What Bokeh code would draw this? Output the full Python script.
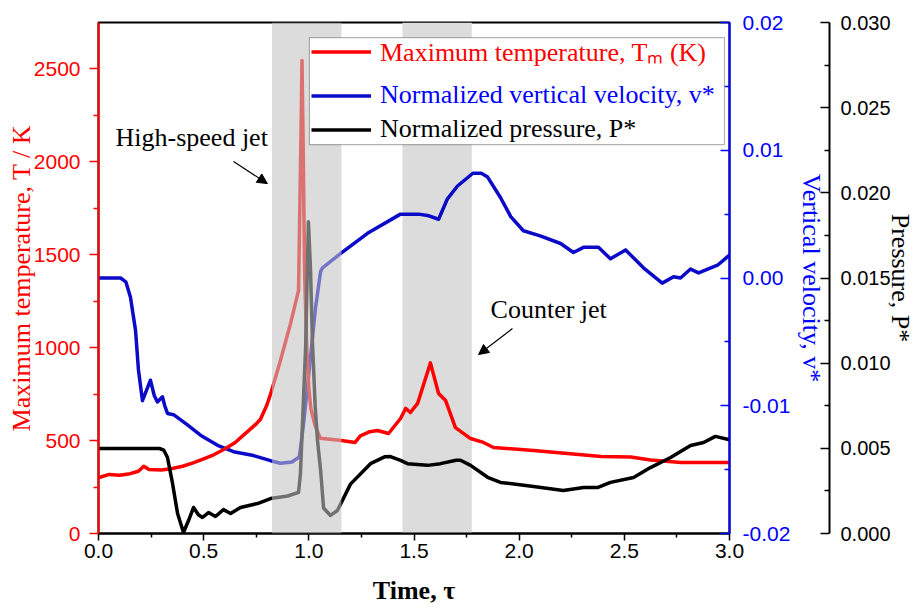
from bokeh.plotting import figure
from bokeh.models import (Range1d, LinearAxis, FixedTicker, NumeralTickFormatter, BoxAnnotation,
                          Legend, LegendItem, Label, Arrow, NormalHead)
from bokeh.embed import file_html
from bokeh.resources import INLINE

# ---------------- data ----------------
tau_T = [0.00, 0.05, 0.10, 0.15, 0.19, 0.215, 0.24, 0.30, 0.35, 0.40, 0.45, 0.50, 0.55, 0.60, 0.65,
         0.70, 0.75, 0.77, 0.80, 0.818, 0.865, 0.913, 0.951, 0.962, 0.9675, 0.973, 0.98, 0.99, 1.00, 1.01,
         1.03, 1.055, 1.155, 1.22, 1.245, 1.29, 1.326, 1.379, 1.436, 1.46, 1.483, 1.517, 1.578, 1.617,
         1.65, 1.697, 1.769, 1.83, 1.878, 2.068, 2.23, 2.39, 2.53, 2.625, 2.77, 3.00]
T_max = [300, 318, 314, 322, 335, 362, 344, 342, 350, 362, 380, 402, 425, 455, 490,
         540, 590, 615, 690, 750, 931, 1130, 1307, 2100, 2545, 2100, 1400, 1000, 780, 670,
         580, 512, 500, 490, 525, 548, 554, 538, 619, 673, 651, 700, 918, 753,
         716, 570, 511, 490, 463, 447, 430, 414, 412, 395, 382, 382]

tau_v = [0.00, 0.105, 0.13, 0.152, 0.176, 0.19, 0.209, 0.228, 0.247, 0.265, 0.28, 0.304, 0.315, 0.328,
         0.357, 0.423, 0.485, 0.566, 0.642, 0.737, 0.818, 0.865, 0.92, 0.955, 0.975, 1.008, 1.032,
         1.056, 1.065, 1.15, 1.279, 1.436, 1.52, 1.564, 1.617, 1.659, 1.707, 1.78, 1.82, 1.85, 1.911,
         1.96, 2.02, 2.10, 2.197, 2.258, 2.306, 2.377, 2.434, 2.506, 2.591, 2.68, 2.734, 2.767, 2.815,
         2.853, 2.943, 3.00]
v_norm = [0.0, 0.0, -0.0003, -0.0015, -0.0041, -0.0072, -0.0096, -0.0088, -0.0080, -0.0092, -0.0097,
          -0.0093, -0.0100, -0.0106, -0.0107, -0.0115, -0.0123, -0.0131, -0.0136, -0.0139, -0.0143,
          -0.0145, -0.0144, -0.0140, -0.0114, -0.0062, -0.0023, 0.0005, 0.0008, 0.0019, 0.0035, 0.0050,
          0.0050, 0.0049, 0.0046, 0.0062, 0.0072, 0.0082, 0.0082, 0.0079, 0.0063, 0.0048, 0.0037,
          0.0033, 0.0027, 0.0020, 0.0024, 0.0024, 0.0015, 0.0022, 0.0008, -0.0004, 0.0001, 0.0000,
          0.0007, 0.0004, 0.0010, 0.0018]

tau_P = [0.00, 0.29, 0.31, 0.328, 0.352, 0.376, 0.404, 0.428, 0.452, 0.475, 0.494, 0.523, 0.556, 0.594,
         0.628, 0.675, 0.756, 0.818, 0.90, 0.951, 0.96, 0.985, 0.998, 1.008, 1.017, 1.03, 1.041, 1.056,
         1.07, 1.103, 1.136, 1.198, 1.293, 1.36, 1.388, 1.436, 1.469, 1.564, 1.626, 1.70, 1.721, 1.769,
         1.85, 1.911, 2.068, 2.21, 2.306, 2.372, 2.434, 2.544, 2.624, 2.72, 2.815, 2.877, 2.933, 3.00]
P_norm = [0.00499, 0.00499, 0.0049, 0.00446, 0.00294, 0.00117, 0.00006, 0.00076, 0.00153, 0.0011,
          0.00094, 0.00123, 0.0010, 0.0014, 0.00117, 0.00153, 0.00176, 0.00205, 0.0022, 0.00241,
          0.0035, 0.0110, 0.0183, 0.0155, 0.0113, 0.0075, 0.0055, 0.0037, 0.0015, 0.00106, 0.00135,
          0.0029, 0.0041, 0.0045, 0.00452, 0.00429, 0.0041, 0.0040, 0.0041, 0.0043, 0.0043, 0.0040,
          0.0033, 0.0030, 0.00276, 0.00252, 0.0027, 0.0027, 0.0030, 0.00329, 0.00387, 0.00446,
          0.00517, 0.00534, 0.0057, 0.0055]

jet_band_1 = (0.825, 1.155)      # high-speed jet interval (tau)
jet_band_2 = (1.445, 1.775)      # counter jet interval (tau)

x_ticks = [0.0, 0.5, 1.0, 1.5, 2.0, 2.5, 3.0]
x_minor = [0.25, 0.75, 1.25, 1.75, 2.25, 2.75]
T_ticks = [0, 500, 1000, 1500, 2000, 2500]
T_minor = [250, 750, 1250, 1750, 2250]
v_ticks = [-0.02, -0.01, 0.0, 0.01, 0.02]
v_minor = [-0.015, -0.005, 0.005, 0.015]
P_ticks = [0.0, 0.005, 0.010, 0.015, 0.020, 0.025, 0.030]
P_minor = [0.0025, 0.0075, 0.0125, 0.0175, 0.0225, 0.0275]

legend_labels = ["Maximum temperature, T\u2098 (K)",
                 "Normalized vertical velocity, v*",
                 "Normalized pressure, P*"]
v_title = "Vertical velocity, v*"
P_title = "Pressure, P*"

RED = "#ff0000"
BLUE_LINE = "#0a0ac8"
BLUE_AX = "#0000ff"
SANS = "Liberation Sans"
SERIF = "Liberation Serif"

p = figure(frame_width=631, frame_height=511,
           x_range=Range1d(0, 3), y_range=Range1d(0, 2750),
           output_backend="svg", toolbar_location=None,
           min_border_left=98, min_border_top=22, min_border_bottom=75, min_border_right=185)
p.extra_y_ranges = {"v": Range1d(-0.02, 0.02), "P": Range1d(0, 0.03)}
p.grid.visible = False
p.outline_line_color = "black"
p.outline_line_width = 2
p.background_fill_color = "white"
p.border_fill_color = "white"

# bottom axis
xa = p.xaxis[0]
xa.ticker = FixedTicker(ticks=x_ticks, minor_ticks=x_minor)
xa.formatter = NumeralTickFormatter(format="0.0")
xa.axis_line_color = "black"
xa.axis_line_width = 2
xa.major_tick_line_color = "black"
xa.major_tick_line_width = 1.5
xa.minor_tick_line_color = "black"
xa.minor_tick_line_width = 1.5
xa.major_tick_out = 7
xa.major_tick_in = 0
xa.minor_tick_out = 4
xa.minor_tick_in = 0
xa.major_label_standoff = 3
xa.major_label_text_font = SANS
xa.major_label_text_font_size = "21px"
xa.major_label_text_color = "black"
xa.axis_label = "Time, \u03c4"
xa.axis_label_text_font = SERIF
xa.axis_label_text_font_style = "bold"
xa.axis_label_text_font_size = "26px"
xa.axis_label_text_color = "black"
xa.axis_label_standoff = 15

# left temperature axis
ya = p.yaxis[0]
ya.ticker = FixedTicker(ticks=T_ticks, minor_ticks=T_minor)
ya.axis_line_color = RED
ya.axis_line_width = 2
ya.major_tick_line_color = RED
ya.major_tick_line_width = 1.5
ya.minor_tick_line_color = RED
ya.minor_tick_line_width = 1.5
ya.major_tick_out = 9
ya.major_tick_in = 0
ya.minor_tick_out = 5
ya.minor_tick_in = 0
ya.major_label_standoff = 9
ya.major_label_text_font = SANS
ya.major_label_text_font_size = "21px"
ya.major_label_text_color = RED
ya.axis_label = "Maximum temperature, T / K"
ya.axis_label_text_font = SERIF
ya.axis_label_text_font_style = "normal"
ya.axis_label_text_font_size = "26px"
ya.axis_label_text_color = RED
ya.axis_label_standoff = -5

# right velocity axis
av = LinearAxis(y_range_name="v")
av.ticker = FixedTicker(ticks=v_ticks, minor_ticks=v_minor)
av.formatter = NumeralTickFormatter(format="0.00")
av.axis_line_color = BLUE_AX
av.axis_line_width = 2
av.major_tick_line_color = BLUE_AX
av.major_tick_line_width = 1.5
av.minor_tick_line_color = BLUE_AX
av.minor_tick_line_width = 1.5
av.major_tick_out = 0
av.major_tick_in = 9
av.minor_tick_out = 0
av.minor_tick_in = 5
av.major_label_standoff = 13
av.major_label_text_font = SANS
av.major_label_text_font_size = "21px"
av.major_label_text_color = BLUE_AX
av.axis_label = v_title
av.axis_label_text_font = SERIF
av.axis_label_text_font_style = "normal"
av.axis_label_text_font_size = "26px"
av.axis_label_text_color = BLUE_AX
av.axis_label_standoff = 4
p.add_layout(av, "right")

# right pressure axis
ap = LinearAxis(y_range_name="P")
ap.ticker = FixedTicker(ticks=P_ticks, minor_ticks=P_minor)
ap.formatter = NumeralTickFormatter(format="0.000")
ap.axis_line_color = "black"
ap.axis_line_width = 2
ap.major_tick_line_color = "black"
ap.major_tick_line_width = 1.5
ap.minor_tick_line_color = "black"
ap.minor_tick_line_width = 1.5
ap.major_tick_out = 0
ap.major_tick_in = 9
ap.minor_tick_out = 0
ap.minor_tick_in = 5
ap.major_label_standoff = 11
ap.major_label_text_font = SANS
ap.major_label_text_font_size = "20px"
ap.major_label_text_color = "black"
ap.axis_label = P_title
ap.axis_label_text_font = SERIF
ap.axis_label_text_font_style = "normal"
ap.axis_label_text_font_size = "26px"
ap.axis_label_text_color = "black"
ap.axis_label_standoff = -8
p.add_layout(ap, "right")

# counter-jet band (below lines)
p.add_layout(BoxAnnotation(left=jet_band_2[0], right=jet_band_2[1], fill_color="#dcdcdc",
                           fill_alpha=1.0, line_color=None, level="underlay"))

# curves
r_v = p.line(tau_v, v_norm, y_range_name="v", line_color=BLUE_LINE, line_width=3.5, line_join="round")
r_T = p.line(tau_T, T_max, line_color=RED, line_width=3.5, line_join="round")
r_P = p.line(tau_P, P_norm, y_range_name="P", line_color="black", line_width=3.5, line_join="round")

# high-speed jet band (over lines, translucent)
p.add_layout(BoxAnnotation(left=jet_band_1[0], right=jet_band_1[1], fill_color="#c3c3c3",
                           fill_alpha=0.58, line_color=None))

# legend frame
p.add_layout(BoxAnnotation(left=1.003, right=2.976, top=2669, bottom=2093, fill_color="white",
                           fill_alpha=1.0, line_color="black", line_width=1.2))

def add_legend(renderer, text, color, vy):
    leg = Legend(items=[LegendItem(label=text, renderers=[renderer])], location=(213, vy),
                 border_line_alpha=0, background_fill_alpha=0, padding=0, margin=0, spacing=0,
                 glyph_width=60, glyph_height=29, label_height=29, label_standoff=9,
                 label_text_font=SERIF, label_text_font_size="26px", label_text_color=color)
    p.add_layout(leg)

add_legend(r_T, legend_labels[0], RED, 464)
add_legend(r_v, legend_labels[1], BLUE_AX, 423)
add_legend(r_P, legend_labels[2], "black", 389)

# annotations
p.add_layout(Label(x=0.081, y=2131, text="High-speed jet", text_font=SERIF, text_font_size="26px",
                   text_color="black", text_baseline="alphabetic"))
p.add_layout(Label(x=1.864, y=1205, text="Counter jet", text_font=SERIF, text_font_size="26px",
                   text_color="black", text_baseline="alphabetic"))
p.add_layout(Arrow(end=NormalHead(size=10, fill_color="black", line_color="black", line_width=1),
                   x_start=0.642, y_start=2002, x_end=0.803, y_end=1883, line_width=1.2, line_color="black"))
p.add_layout(Arrow(end=NormalHead(size=10, fill_color="black", line_color="black", line_width=1),
                   x_start=1.968, y_start=1103, x_end=1.807, y_end=963, line_width=1.2, line_color="black"))

open("out.html", "w").write(file_html(p, INLINE))
